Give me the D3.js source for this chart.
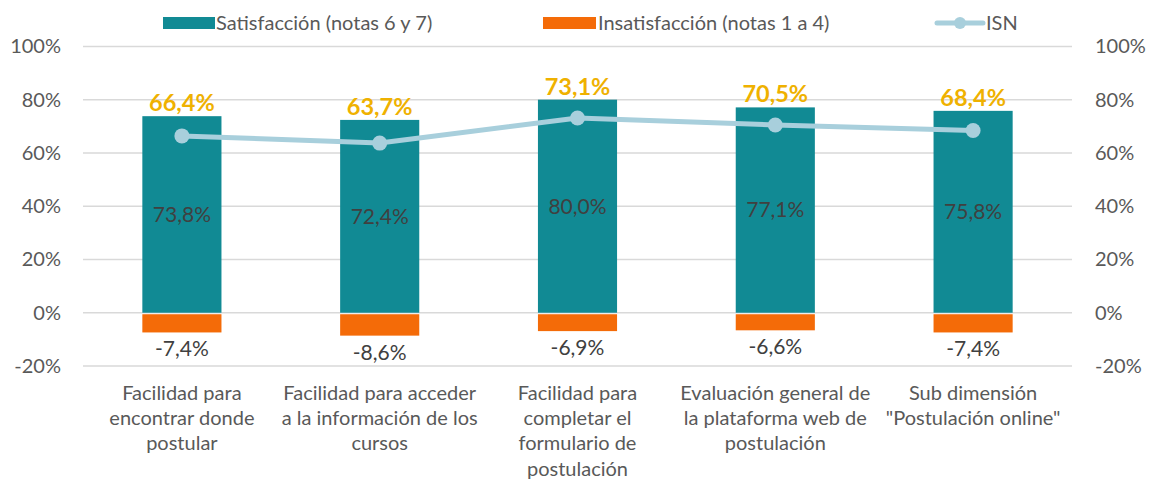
<!DOCTYPE html>
<html>
<head>
<meta charset="utf-8">
<script src="https://cdn.jsdelivr.net/npm/d3@7"></script>
<style>
  body { margin: 0; background: #fff; }
  text { font-family: Lato, "Open Sans", sans-serif; }
</style>
</head>
<body>
<svg id="chart" width="1149" height="480"></svg>
<script>
///////  data ///////

var categories = [
    ["Facilidad para", "encontrar donde", "postular"],
    ["Facilidad para acceder", "a la información de los", "cursos"],
    ["Facilidad para", "completar el", "formulario de", "postulación"],
    ["Evaluación general de", "la plataforma web de", "postulación"],
    ["Sub dimensión", "\"Postulación online\""]
];
var satisfaccion = [73.8, 72.4, 80.0, 77.1, 75.8];
var insatisfaccion = [-7.4, -8.6, -6.9, -6.6, -7.4];
var isn = [66.4, 63.7, 73.1, 70.5, 68.4];
var yTicks = [-20, 0, 20, 40, 60, 80, 100];
var legendLabels = ["Satisfacción (notas 6 y 7)", "Insatisfacción (notas 1 a 4)", "ISN"];

var teal = "#118a94", orange = "#f46b08", lineCol = "#a8cfdc", gold = "#efb100";

///////  scales ///////

var svg = d3.select("#chart");
var plotLeft = 83, plotRight = 1072, plotTop = 46.4, plotBottom = 366;

var x = d3.scaleBand()
    .domain(d3.range(categories.length))
    .range([plotLeft, plotRight])
    .paddingInner(0.6)
    .paddingOuter(0.3);

var y = d3.scaleLinear().domain([-20, 100]).range([plotBottom, plotTop]);

var es = d3.formatLocale({decimal: ",", thousands: ".", grouping: [3], currency: ["", ""], minus: "-"});
var fmt = function(v) { return es.format(".1f")(v) + "%"; };

///////  grid + axes ///////

svg.append("g").selectAll("line")
    .data(yTicks)
    .join("line")
    .attr("x1", plotLeft).attr("x2", plotRight)
    .attr("y1", function(d) { return y(d); })
    .attr("y2", function(d) { return y(d); })
    .attr("stroke", "#d9d9d9")
    .attr("stroke-width", 1.5);

var yAxisL = d3.axisLeft(y).tickValues(yTicks).tickSize(0).tickPadding(22)
    .tickFormat(function(d) { return d + "%"; });
var yAxisR = d3.axisRight(y).tickValues(yTicks).tickSize(0).tickPadding(23)
    .tickFormat(function(d) { return d + "%"; });

[[yAxisL, plotLeft], [yAxisR, plotRight]].forEach(function(a) {
    var g = svg.append("g")
        .attr("transform", "translate(" + a[1] + ",0)")
        .call(a[0]);
    g.select(".domain").remove();
    g.selectAll("text")
        .attr("font-family", "Lato, sans-serif")
        .attr("font-size", "20px")
        .attr("fill", "#595959");
});

///////  bars ///////

svg.append("g").selectAll("rect")
    .data(satisfaccion)
    .join("rect")
    .attr("x", function(d, i) { return x(i); })
    .attr("width", x.bandwidth())
    .attr("y", function(d) { return y(d); })
    .attr("height", function(d) { return y(0) - y(d); })
    .attr("fill", teal);

svg.append("g").selectAll("rect")
    .data(insatisfaccion)
    .join("rect")
    .attr("x", function(d, i) { return x(i); })
    .attr("width", x.bandwidth())
    .attr("y", y(0) + 1.5)
    .attr("height", function(d) { return y(d) - y(0) - 1.5; })
    .attr("fill", orange);

var cx = function(i) { return x(i) + x.bandwidth() / 2; };

// value labels
svg.append("g").selectAll("text")
    .data(satisfaccion)
    .join("text")
    .attr("x", function(d, i) { return cx(i); })
    .attr("y", function(d) { return (y(d) + y(0)) / 2; })
    .attr("dy", "0.35em")
    .attr("text-anchor", "middle")
    .attr("font-size", "21px")
    .attr("fill", "#404040")
    .text(fmt);

svg.append("g").selectAll("text")
    .data(insatisfaccion)
    .join("text")
    .attr("x", function(d, i) { return cx(i); })
    .attr("y", function(d) { return y(d) + 24; })
    .attr("text-anchor", "middle")
    .attr("font-size", "21px")
    .attr("fill", "#404040")
    .text(fmt);

///////  ISN line ///////

var line = d3.line()
    .x(function(d, i) { return cx(i); })
    .y(function(d) { return y(d); });

svg.append("path")
    .datum(isn)
    .attr("d", line)
    .attr("fill", "none")
    .attr("stroke", lineCol)
    .attr("stroke-width", 5)
    .attr("stroke-linejoin", "round");

svg.append("g").selectAll("circle")
    .data(isn)
    .join("circle")
    .attr("cx", function(d, i) { return cx(i); })
    .attr("cy", function(d) { return y(d); })
    .attr("r", 7.5)
    .attr("fill", lineCol);

// ISN labels sit on top of the satisfaction bar
svg.append("g").selectAll("text")
    .data(isn)
    .join("text")
    .attr("x", function(d, i) { return cx(i); })
    .attr("y", function(d, i) { return y(satisfaccion[i]) - 5; })
    .attr("text-anchor", "middle")
    .attr("font-size", "23.5px")
    .attr("font-weight", "bold")
    .attr("fill", gold)
    .text(fmt);

///////  category labels ///////

var cat = svg.append("g").selectAll("text")
    .data(categories)
    .join("text")
    .attr("text-anchor", "middle")
    .attr("font-size", "20px")
    .attr("fill", "#595959");

cat.selectAll("tspan")
    .data(function(d, i) { return d.map(function(t) { return {t: t, i: i}; }); })
    .join("tspan")
    .attr("x", function(d) { return cx(d.i); })
    .attr("y", function(d, j) { return 400 + j * 25.2; })
    .text(function(d) { return d.t; });

///////  legend ///////

var leg = svg.append("g").attr("font-size", "20px").attr("fill", "#595959");

leg.append("rect").attr("x", 163).attr("y", 17).attr("width", 52).attr("height", 12).attr("fill", teal);
leg.append("text").attr("x", 216).attr("y", 30).text(legendLabels[0]);

leg.append("rect").attr("x", 543).attr("y", 17).attr("width", 53).attr("height", 12).attr("fill", orange);
leg.append("text").attr("x", 598).attr("y", 30).text(legendLabels[1]);

leg.append("line").attr("x1", 937).attr("x2", 983).attr("y1", 23).attr("y2", 23)
    .attr("stroke", lineCol).attr("stroke-width", 5).attr("stroke-linecap", "round");
leg.append("circle").attr("cx", 960).attr("cy", 23).attr("r", 6).attr("fill", lineCol);
leg.append("text").attr("x", 986).attr("y", 30).text(legendLabels[2]);
</script>
</body>
</html>
